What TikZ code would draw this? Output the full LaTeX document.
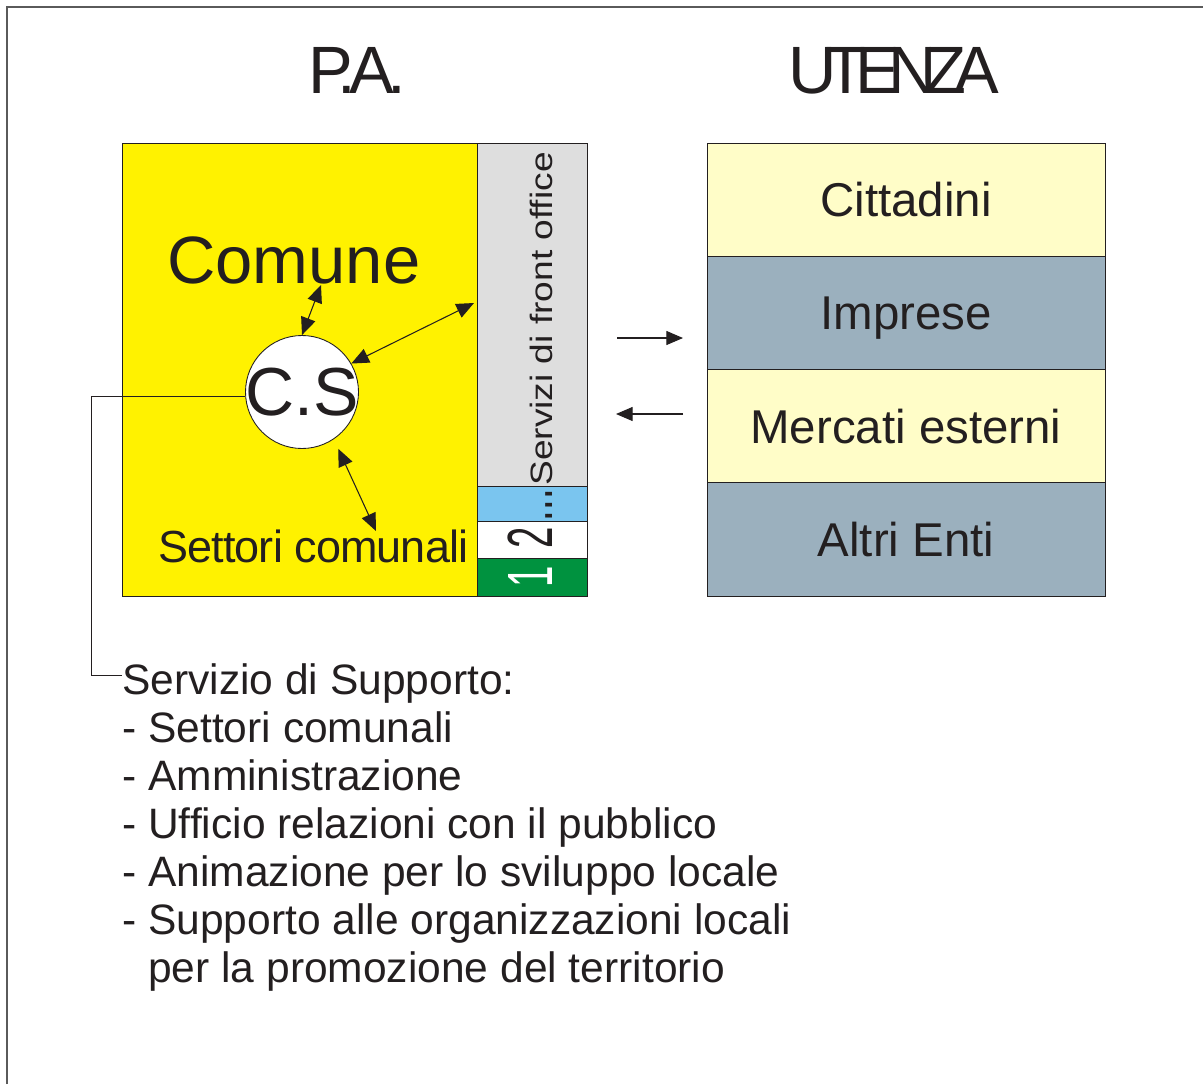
\documentclass[tikz,border=0pt]{standalone}
\usepackage{fontspec}
\setmainfont{Liberation Sans}
\newfontfamily\tightfont[LetterSpace=-17]{Liberation Sans}
\newfontfamily\patitlefont[LetterSpace=-10]{Liberation Sans}
\newfontfamily\slightfont[LetterSpace=-2]{Liberation Sans}
\usetikzlibrary{arrows.meta}
\definecolor{payellow}{RGB}{255,242,0}
\definecolor{stripgray}{RGB}{222,222,222}
\definecolor{stripblue}{RGB}{122,197,239}
\definecolor{stripgreen}{RGB}{0,146,63}
\definecolor{rowlight}{RGB}{255,253,200}
\definecolor{rowdark}{RGB}{155,176,190}
\definecolor{ink}{RGB}{35,31,32}
\definecolor{framegray}{RGB}{90,90,90}
\def\PX{0.5691pt}
\begin{document}
\begin{tikzpicture}[x=0.5691pt,y=-0.5691pt,
  every node/.style={text=ink, inner sep=0pt},
  frameline/.style={draw=framegray, line width=0.8pt},
  blockbox/.style={draw=ink, line width=0.5pt},
  titletext/.style={font=\tightfont\fontsize{38.1pt}{40pt}\selectfont},
  patitle/.style={font=\patitlefont\fontsize{38.1pt}{40pt}\selectfont},
  bigtext/.style={font=\fontsize{38.1pt}{40pt}\selectfont},
  settoritext/.style={font=\slightfont\fontsize{25.6pt}{28pt}\selectfont},
  rowbox/.style={draw=ink, line width=0.5pt, minimum width=398*\PX, minimum height=113.25*\PX,
     font=\fontsize{27pt}{29pt}\selectfont, text height=19.3pt, text depth=0pt},
  supptext/.style={font=\fontsize{24.2pt}{27pt}\selectfont, anchor=base west},
  dblarrow/.style={draw=ink, line width=0.6pt,
     {Triangle[length=10pt,width=8.5pt]}-{Triangle[length=10pt,width=8.5pt]}},
  onearrow/.style={draw=ink, line width=0.6pt, -{Triangle[length=9.5pt,width=8pt]}},
  linkline/.style={draw=ink, line width=0.5pt}
]
\useasboundingbox (0,0) rectangle (1203,1084);
% frame
\draw[frameline] (7,1084) -- (7,7) -- (1203,7);

% titles
\node[patitle, anchor=base] (pa) at (357,93) {P.A.};
\node[titletext, anchor=base] (ut) at (894,93) {UTENZA};

% P.A. block
\draw[blockbox, fill=payellow] (122,143) rectangle (477,596);
\draw[blockbox, fill=stripgray] (477,143) rectangle (587,486);
\draw[blockbox, fill=stripblue] (477,486) rectangle (587,521);
\draw[blockbox, fill=white] (477,521) rectangle (587,558);
\draw[blockbox, fill=stripgreen] (477,558) rectangle (587,596);

\node[bigtext, anchor=base west] (comune) at (167,283) {Comune};
\node[settoritext, anchor=base west] (settori) at (158,562) {Settori comunali};
\node[rotate=90, font=\fontsize{17.6pt}{20pt}\selectfont] (front) at (541,319)
   {\scalebox{1.2}[1]{Servizi di front office}};
\node[rotate=90, font=\fontsize{36.4pt}{38pt}\selectfont] (dots) at (549,505) {\scalebox{0.6}[1]{...}};
\node[rotate=90, font=\fontsize{36.4pt}{38pt}\selectfont] (two) at (530,538) {\scalebox{0.6}[1]{2}};
\node[rotate=90, font=\fontsize{36.4pt}{38pt}\selectfont, text=white] (one) at (530,577) {\scalebox{0.6}[1]{1}};

% C.S circle
\node[circle, draw=ink, line width=0.5pt, fill=white, minimum size=113*\PX,
      font=\fontsize{38.7pt}{40pt}\selectfont] (cs) at (302,392) {\makebox[0pt]{C.S}};

% arrows inside block
\coordinate (acom) at (321,285);
\coordinate (afront) at (474,303);
\coordinate (aset) at (376,531);
\draw[dblarrow] (cs.90) -- (acom);
\draw[dblarrow] (cs.30) -- (afront);
\draw[dblarrow, shorten <=6pt] (cs.-56) -- (aset);

% UTENZA block
\node[rowbox, fill=rowlight] (cit) at (906,199.6) {Cittadini};
\node[rowbox, fill=rowdark] (imp) at (906,312.9) {Imprese};
\node[rowbox, fill=rowlight] (mer) at (906,426.1) {Mercati esterni};
\node[rowbox, fill=rowdark] (alt) at (906,539.4) {Altri Enti};

% arrows between blocks
\coordinate (r1a) at (617,338);
\coordinate (r1b) at (683,338);
\coordinate (r2a) at (683,414);
\coordinate (r2b) at (616,414);
\draw[onearrow] (r1a) -- (r1b);
\draw[onearrow] (r2a) -- (r2b);

% support text
\node[supptext] (s0) at (122,694) {Servizio di Supporto:};
\node[supptext] (s1) at (122,742) {- Settori comunali};
\node[supptext] (s2) at (122,790) {- Amministrazione};
\node[supptext] (s3) at (122,838) {- Ufficio relazioni con il pubblico};
\node[supptext] (s4) at (122,886) {- Animazione per lo sviluppo locale};
\node[supptext] (s5) at (122,934) {- Supporto alle organizzazioni locali};
\node[supptext] (s6) at (122,982) {\phantom{- }per la promozione del territorio};

% link from C.S to support text
\coordinate (lk) at (91,675);
\draw[linkline] (cs.184) -| (lk) -- (s0.west |- lk);
\end{tikzpicture}
\end{document}
